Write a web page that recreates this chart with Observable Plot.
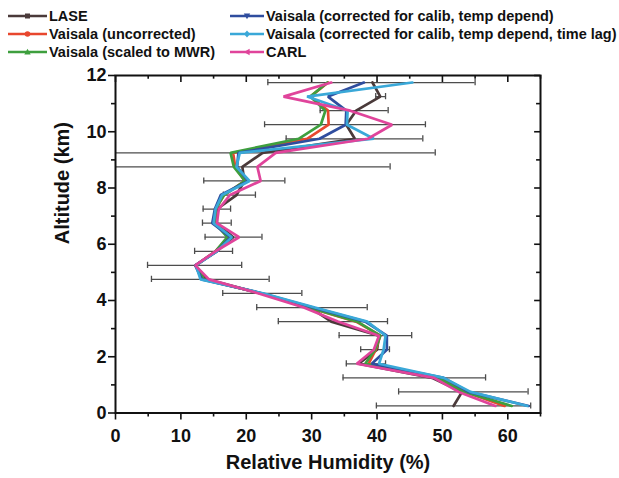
<!DOCTYPE html>
<html>
<head>
<meta charset="utf-8">
<script src="https://cdn.jsdelivr.net/npm/d3@7"></script>
<script src="https://cdn.jsdelivr.net/npm/@observablehq/plot@0.6"></script>
<style>
  body { margin: 0; width: 619px; height: 478px; overflow: hidden; background: #fff; }
  #legend { position: relative; height: 62px; font: bold 14.5px "Liberation Sans", Arial, sans-serif; color: #111; }
  .item { position: absolute; height: 18px; display: flex; align-items: center; white-space: nowrap; }
  .item svg { flex: none; margin-right: 2px; }
</style>
</head>
<body>
<div id="legend"></div>
<div id="chart"></div>
<script>
// ---- data ----
const altitude = [0.25, 0.75, 1.25, 1.75, 2.25, 2.75, 3.25, 3.75, 4.25, 4.75, 5.25, 5.75,
                  6.25, 6.75, 7.25, 7.75, 8.25, 8.75, 9.25, 9.75, 10.25, 10.75, 11.25, 11.75];

const seriesNames = ["LASE", "Vaisala (uncorrected)", "Vaisala (scaled to MWR)",
  "Vaisala (corrected for calib, temp depend)",
  "Vaisala (corrected for calib, temp depend, time lag)", "CARL"];

const lase        = [51.7, 53.0, 48.4, 37.2, 40.0, 40.3, 33.0, 29.8, 22.3, 14.0, 12.2, 15.5,
                     18.0, 15.5, 15.5, 18.5, 19.7, 19.4, 22.5, 36.6, 35.3, 36.8, 40.5, 39.3];
const vUncorr     = [59.5, 53.5, 49.6, 38.7, 39.8, 40.5, 36.8, 29.5, 22.3, 13.5, 12.3, 15.3,
                     17.3, 15.2, 15.3, 16.6, 19.8, 18.3, 18.0, 29.3, 32.6, 32.5, 29.8, 32.5];
const vScaledMWR  = [60.6, 53.3, 49.4, 38.2, 39.7, 40.5, 37.0, 29.6, 22.3, 13.5, 12.3, 15.3,
                     17.1, 15.2, 15.3, 16.6, 19.8, 18.1, 17.6, 28.0, 31.4, 32.1, 29.8, 32.4];
const vCalibTemp  = [63.2, 54.0, 50.2, 39.2, 41.5, 41.5, 38.2, 30.2, 22.5, 13.2, 12.2, 15.5,
                     17.6, 14.8, 15.2, 16.1, 20.3, 18.6, 18.8, 31.2, 35.2, 35.3, 32.5, 38.0];
const vTimeLag    = [63.0, 54.3, 50.2, 40.3, 41.0, 41.3, 38.5, 30.5, 22.7, 13.0, 12.3, 15.5,
                     17.8, 15.0, 15.3, 16.3, 20.5, 18.5, 19.0, 39.5, 35.4, 35.5, 29.3, 45.4];
const carl        = [58.1, 52.5, 48.7, 36.9, 39.5, 40.3, 34.0, 28.8, 21.9, 14.3, 12.2, 15.3,
                     18.9, 15.5, 15.8, 17.5, 22.2, 21.7, 24.5, 38.6, 42.3, 35.9, 25.7, 33.0];

// LASE error bar ends
const errLow  = [39.9, 43.3, 34.8, 35.3, 37.5, 34.2, 24.9, 21.6, 16.4, 5.5, 4.9, 12.1,
                 13.7, 13.3, 13.4, 16.5, 13.5, -5.0, -5.0, 26.1, 22.8, 31.3, 39.8, 23.3];
const errHigh = [63.5, 63.1, 56.6, 41.3, 41.9, 45.3, 41.6, 38.5, 28.5, 23.5, 19.3, 17.9,
                 22.4, 17.7, 17.6, 21.4, 25.9, 42.0, 48.9, 47.0, 47.4, 41.7, 41.3, 55.0];

const xMajor = [0, 10, 20, 30, 40, 50, 60];
const xMinor = [5, 15, 25, 35, 45, 55, 65];
const yMajor = [0, 2, 4, 6, 8, 10, 12];
const yMinor = [1, 3, 5, 7, 9, 11];

// ---- styling ----
const colors = ["#4a3a3a", "#e8472e", "#3e9f3e", "#2f4d9e", "#3aa8d8", "#e0449b"];
const symbols = ["square", "circle", "tri-up", "tri-down", "diamond", "tri-left"];
const seriesValues = [lase, vUncorr, vScaledMWR, vCalibTemp, vTimeLag, carl];

const rows = altitude.map((a, i) => ({alt: a, lo: errLow[i], hi: errHigh[i]}));
const lineData = seriesValues.map((vals, s) => altitude.map((a, i) => ({alt: a, v: vals[i], s})));

// ---- legend ----
function markerSvg(kind, color, w) {
  const cx = w / 2, cy = 9;
  let m = "";
  if (kind === "square") m = `<rect x="${cx-2.5}" y="${cy-2.5}" width="5" height="5" fill="${color}"/>`;
  if (kind === "circle") m = `<circle cx="${cx}" cy="${cy}" r="2.8" fill="${color}"/>`;
  if (kind === "tri-up") m = `<path d="M${cx},${cy-3.2}L${cx+3.2},${cy+2.6}L${cx-3.2},${cy+2.6}Z" fill="${color}"/>`;
  if (kind === "tri-down") m = `<path d="M${cx},${cy+3.2}L${cx+3.2},${cy-2.6}L${cx-3.2},${cy-2.6}Z" fill="${color}"/>`;
  if (kind === "diamond") m = `<path d="M${cx},${cy-3.4}L${cx+3},${cy}L${cx},${cy+3.4}L${cx-3},${cy}Z" fill="${color}"/>`;
  if (kind === "tri-left") m = `<path d="M${cx-3.2},${cy}L${cx+2.6},${cy-3.2}L${cx+2.6},${cy+3.2}Z" fill="${color}"/>`;
  return `<svg width="${w}" height="18"><line x1="0" y1="${cy}" x2="${w}" y2="${cy}" stroke="${color}" stroke-width="2.6"/>${m}</svg>`;
}
const legend = document.getElementById("legend");
const legendPos = [[8, 16, 39], [8, 34, 39], [8, 52, 39], [230, 16, 34], [230, 34, 34], [230, 52, 34]];
seriesNames.forEach((name, i) => {
  const [x, cy, w] = legendPos[i];
  const d = document.createElement("div");
  d.className = "item";
  d.style.left = x + "px";
  d.style.top = (cy - 9) + "px";
  d.innerHTML = markerSvg(symbols[i], colors[i], w) + `<span>${name}</span>`;
  legend.appendChild(d);
});

// ---- chart ----
const errColor = "#4d4d4d";
const chart = Plot.plot({
  width: 619,
  height: 416,
  marginTop: 13,
  marginBottom: 65.5,
  marginLeft: 115,
  marginRight: 79,
  x: {domain: [0, 65]},
  y: {domain: [0, 12]},
  style: {fontFamily: "'Liberation Sans', Arial, sans-serif", fontSize: "18px", fontWeight: "bold", color: "#111", background: "#fff"},
  marks: [
    Plot.ruleY(rows, {y: "alt", x1: "lo", x2: "hi", stroke: errColor, strokeWidth: 1.3, clip: true}),
    Plot.ruleX(rows, {x: "lo", y1: d => d.alt - 0.11, y2: d => d.alt + 0.11, stroke: errColor, strokeWidth: 1.3, clip: true}),
    Plot.ruleX(rows, {x: "hi", y1: d => d.alt - 0.11, y2: d => d.alt + 0.11, stroke: errColor, strokeWidth: 1.3, clip: true}),
    ...lineData.map((data, s) => Plot.line(data, {x: "v", y: "alt", stroke: colors[s], strokeWidth: 2.7, strokeLinejoin: "miter"})),
    Plot.frame({stroke: "#111", strokeWidth: 2}),
    Plot.axisX({ticks: xMajor, tickSize: 7, tickPadding: 9, label: null, strokeWidth: 1.6}),
    Plot.axisX({ticks: xMinor, tickSize: 4, tickFormat: () => "", label: null, strokeWidth: 1.6}),
    Plot.axisY({ticks: yMajor, tickSize: 7, tickPadding: 2, label: null, strokeWidth: 1.6}),
    Plot.axisY({ticks: yMinor, tickSize: 4, tickFormat: () => "", label: null, strokeWidth: 1.6}),
    Plot.ruleX(xMajor, {x: d => d, y1: 12, y2: 11.75, stroke: "#111", strokeWidth: 1.6}),
    Plot.ruleX(xMinor, {x: d => d, y1: 12, y2: 11.87, stroke: "#111", strokeWidth: 1.6}),
    Plot.ruleY(yMajor, {y: d => d, x1: 65, x2: 64.1, stroke: "#111", strokeWidth: 1.6}),
    Plot.ruleY(yMinor, {y: d => d, x1: 65, x2: 64.4, stroke: "#111", strokeWidth: 1.6}),
    Plot.text(["Relative Humidity (%)"], {frameAnchor: "bottom", dy: 56, fontSize: 20, fontWeight: "bold", fill: "#111"}),
    Plot.text(["Altitude (km)"], {frameAnchor: "left", dx: -53, rotate: -90, fontSize: 20, fontWeight: "bold", fill: "#111"})
  ]
});
document.getElementById("chart").appendChild(chart);
</script>
</body>
</html>
